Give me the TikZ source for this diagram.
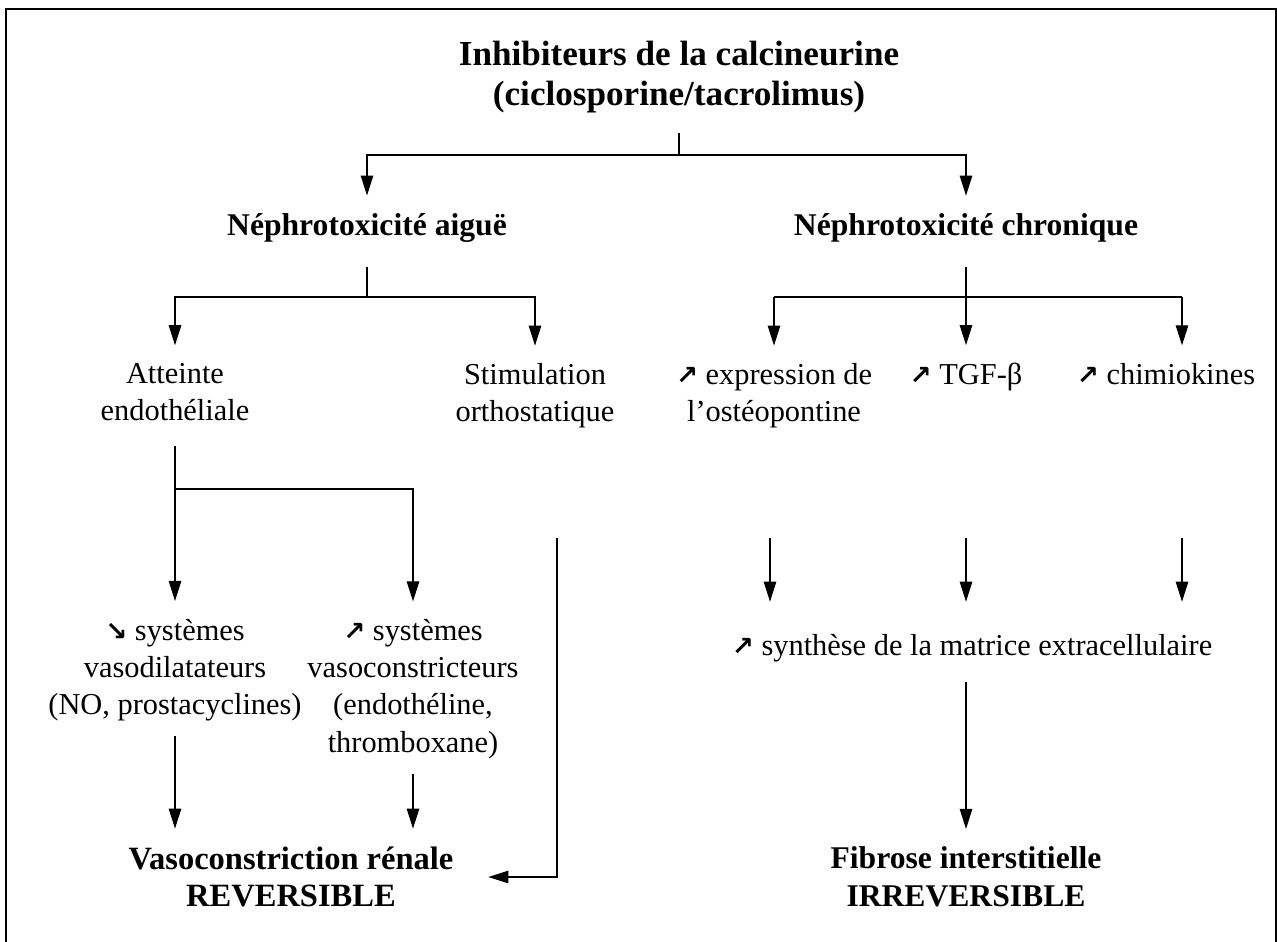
\documentclass[tikz,border=0pt]{standalone}
\usepackage{fontspec}
\setmainfont{Liberation Serif}
\newfontfamily\flechefont{DejaVu Sans}
\newcommand{\hausse}{{\flechefont\bfseries\fontsize{15}{15}\selectfont ↗}}
\newcommand{\baisse}{{\flechefont\bfseries\fontsize{15}{15}\selectfont ↘}}
\usetikzlibrary{arrows.meta}

\begin{document}
\begin{tikzpicture}[x=0.02cm,y=-0.02cm,
    txt/.style={align=center,inner sep=0pt,outer sep=0pt,font=\fontsize{17.3}{21.2}\selectfont},
    titre/.style={txt,font=\fontsize{18}{21.5}\selectfont\bfseries},
    fl/.style={-{Triangle[length=0.4cm,width=0.25cm]},line width=0.65pt,shorten <=0.4cm,shorten >=0.36cm},
    trait/.style={line width=0.65pt,shorten <=0.4cm}]
    \useasboundingbox (0,0) rectangle (1277,941);
    % cadre
    \draw[line width=1.1pt] (6,990) -- (6,9) -- (1276,9) -- (1276,990);
    % noeuds
    \node[titre,font=\fontsize{20}{22.7}\selectfont\bfseries] (inhib) at (679,77) {Inhibiteurs de la calcineurine\\(ciclosporine/tacrolimus)};
    \node[titre] (aigue) at (367,228) {Néphrotoxicité aiguë};
    \node[titre] (chron) at (966,228) {Néphrotoxicité chronique};
    \node[txt] (atteinte) at (175,392) {Atteinte\\endothéliale};
    \node[txt] (stim) at (535,396) {Stimulation\\orthostatique};
    \node[txt] (osteo) at (774,396) {\hausse{} expression de\\l’ostéopontine};
    \node[txt] (tgf) at (966,377) {\hausse{} TGF-β};
    \node[txt] (chimio) at (1166,374) {\hausse{} chimiokines};
    \node[txt] (vasodil) at (175,670) {\baisse{} systèmes\\vasodilatateurs\\(NO, prostacyclines)};
    \node[txt] (vasocon) at (413,689) {\hausse{} systèmes\\vasoconstricteurs\\(endothéline,\\thromboxane)};
    \node[txt] (synth) at (972,648) {\hausse{} synthèse de la matrice extracellulaire};
    \node[titre,font=\fontsize{18.5}{21.5}\selectfont\bfseries] (vasoren) at (291,877) {Vasoconstriction rénale\\REVERSIBLE};
    \node[titre] (fibrose) at (966,877) {Fibrose interstitielle\\IRREVERSIBLE};
    % points de branchement
    \coordinate (j1) at (679,155);
    \coordinate (j2) at (367,297);
    \coordinate (j3) at (966,297);
    \coordinate (j4) at (175,489);
    \coordinate (j5) at (1182,297);
    \coordinate (s1) at (557,538);
    \coordinate (o1) at (770,538);
    \coordinate (t1) at (966,538);
    \coordinate (c1) at (1182,538);
    % connecteurs
    \draw[trait] (inhib.south) -- (j1);
    \draw[fl,shorten <=0pt] (j1) -| (aigue.north);
    \draw[fl,shorten <=0pt] (j1) -| (chron.north);
    \draw[trait,shorten <=0.5cm] (aigue.south) -- (j2);
    \draw[fl,shorten <=0pt] (j2) -| (atteinte.north);
    \draw[fl,shorten <=0pt] (j2) -| (stim.north);
    \draw[fl,shorten <=0.5cm] (chron.south) -- (tgf.north);
    \draw[trait,shorten <=0pt] (j3) -- (osteo.north |- j3);
    \draw[trait,shorten <=0pt] (j3) -- (j5);
    \draw[fl,shorten <=0pt] (osteo.north |- j3) -- (osteo.north);
    \draw[fl,shorten <=0pt] (j5) -- (j5 |- chimio.north);
    \draw[fl,shorten <=0.5cm] (atteinte.south) -- (vasodil.north);
    \draw[fl,shorten <=0pt] (j4) -| (vasocon.north);
    \draw[fl,shorten <=0pt,shorten >=0.7cm] (s1) |- (vasoren.east);
    \draw[fl,shorten <=0.3cm] (vasodil.south) -- (vasodil.south |- vasoren.north);
    \draw[fl,shorten <=0.3cm] (vasocon.south) -- (vasocon.south |- vasoren.north);
    \draw[fl,shorten <=0pt,shorten >=0.65cm] (o1) -- (o1 |- synth.north);
    \draw[fl,shorten <=0pt,shorten >=0.65cm] (t1) -- (t1 |- synth.north);
    \draw[fl,shorten <=0pt,shorten >=0.65cm] (c1) -- (c1 |- synth.north);
    \draw[fl] (fibrose.north |- synth.south) -- (fibrose.north);
\end{tikzpicture}
\end{document}
